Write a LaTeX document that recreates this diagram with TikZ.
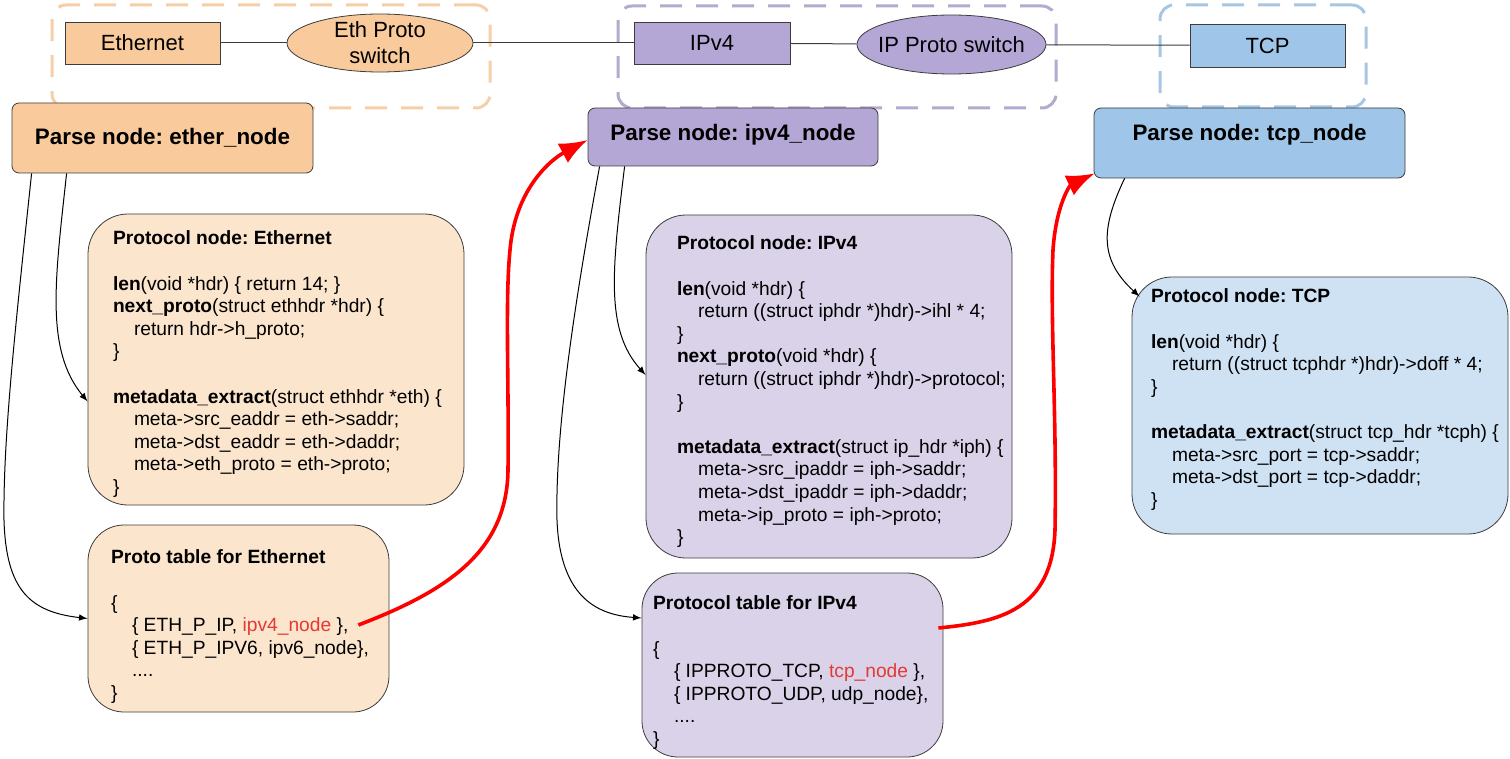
\documentclass[tikz,border=0pt]{standalone}
\usepackage{fontspec}
\setmainfont{Liberation Sans}
\usetikzlibrary{positioning,calc,shapes.geometric,arrows.meta}
\frenchspacing

\definecolor{ethfill}{HTML}{F9CB9C}
\definecolor{ethlight}{HTML}{FCE5CD}
\definecolor{ethdash}{HTML}{F5CFA8}
\definecolor{ipfill}{HTML}{B4A7D6}
\definecolor{iplight}{HTML}{D9D2E9}
\definecolor{ipdash}{HTML}{B2ABD0}
\definecolor{tcpfill}{HTML}{9FC5E8}
\definecolor{tcplight}{HTML}{CFE2F3}
\definecolor{tcpdash}{HTML}{A6C6E4}
\definecolor{boxline}{HTML}{3C3C3C}
\definecolor{hlred}{HTML}{E53935}

\newcommand{\fname}[1]{\textbf{#1}}
\newcommand{\codeind}{\hspace*{10.5pt}}
\newcommand{\nodename}[1]{\textcolor{hlred}{#1}}

\tikzset{
  grpbox/.style={draw=#1, dash pattern=on 11pt off 7pt, line width=1.5pt, rounded corners=7pt},
  hdr/.style={draw=boxline, fill=#1, minimum height=21pt, font=\fontsize{11}{13}\selectfont},
  switch/.style={ellipse, draw=boxline, fill=#1, inner xsep=-12pt, inner ysep=-6pt, align=center,
    font=\fontsize{11}{13}\selectfont},
  parse/.style={draw=boxline, fill=#1, rounded corners=3.5pt, inner sep=0pt,
    font=\bfseries\fontsize{11.2}{13}\selectfont},
  protobox/.style={draw=boxline, fill=#1, rounded corners=20pt},
  codetext/.style={anchor=north west, inner sep=0pt, align=left, font=\fontsize{9.6}{11.3}\selectfont},
  wire/.style={draw=boxline, line width=0.5pt},
  link/.style={->, draw=black, line width=0.5pt},
  hop/.style={-{Latex[length=14pt,width=11pt]}, draw=red, line width=1.8pt},
}

\begin{document}
\begin{tikzpicture}[>=latex, x=0.5pt, y=-0.5pt]
  \useasboundingbox (0,0) rectangle (1510,759);

  % header chain
  \node[grpbox=ethdash, minimum width=219pt, minimum height=51.5pt] (ethgrp) at (271,56.5) {};
  \node[grpbox=ipdash, minimum width=219pt, minimum height=51pt] (ipgrp) at (837,57) {};
  \node[grpbox=tcpdash, minimum width=103pt, minimum height=51pt] (tcpgrp) at (1263,56) {};

  \node[hdr=ethfill, minimum width=77.5pt] (ether) at (142.5,43) {Ethernet};
  \node[switch=ethfill, minimum width=93pt, minimum height=29pt] (ethsw) at (380,43) {Eth Proto\\switch};
  \node[hdr=ipfill, minimum width=78pt] (ipv4) at (712,43) {IPv4};
  \node[switch=ipfill, minimum width=94.5pt, minimum height=29.5pt] (ipsw) at (951.5,44.5) {IP Proto switch};
  \node[hdr=tcpfill, minimum width=77.5pt, minimum height=21.5pt] (tcp) at (1267.5,45.5) {TCP};

  \draw[wire] (ether) -- (ethsw);
  \draw[wire] (ethsw) -- (ipv4);
  \draw[wire] (ipv4) -- (ipsw);
  \draw[wire] (ipsw) -- (tcp);

  % parse nodes
  \node[parse=ethfill, minimum width=150.5pt, text height=21pt, text depth=14pt] (etherparse) at (162.5,138) {Parse node: ether\_node};
  \node[parse=ipfill, minimum width=145pt, text height=16.5pt, text depth=12.5pt] (ipv4parse) at (733,137) {Parse node: ipv4\_node};
  \node[parse=tcpfill, minimum width=155.5pt, text height=16.5pt, text depth=18.5pt] (tcpparse) at (1249.5,143) {Parse node: tcp\_node};

  % ethernet
  \node[protobox=ethlight, minimum width=188pt, minimum height=145.5pt] (ethproto) at (276,359.5) {};
  \node[codetext] (ethprotocode) at ([shift={(25,17)}]ethproto.north west) {%
    \fname{Protocol node: Ethernet}\\
    \mbox{}\\
    \fname{len}(void *hdr) \{ return 14; \}\\
    \fname{next\_proto}(struct ethhdr *hdr) \{\\
    \codeind return hdr->h\_proto;\\
    \}\\
    \mbox{}\\
    \fname{metadata\_extract}(struct ethhdr *eth) \{\\
    \codeind meta->src\_eaddr = eth->saddr;\\
    \codeind meta->dst\_eaddr = eth->daddr;\\
    \codeind meta->eth\_proto = eth->proto;\\
    \}};

  \node[protobox=ethlight, rounded corners=18pt, minimum width=150.5pt, minimum height=93.5pt] (ethtable) at (238.5,618.5) {};
  \node[codetext] (ethtablecode) at ([shift={(23,25)}]ethtable.north west) {%
    \fname{Proto table for Ethernet}\\
    \mbox{}\\
    \{\\
    \codeind\{ ETH\_P\_IP, \nodename{ipv4\_node} \},\\
    \codeind\{ ETH\_P\_IPV6, ipv6\_node\},\\
    \codeind....\\
    \}};

  % ipv4
  \node[protobox=iplight, minimum width=183pt, minimum height=171.5pt] (ipproto) at (829,386.5) {};
  \node[codetext] (ipprotocode) at ([shift={(31,21)}]ipproto.north west) {%
    \fname{Protocol node: IPv4}\\
    \mbox{}\\
    \fname{len}(void *hdr) \{\\
    \codeind return ((struct iphdr *)hdr)->ihl * 4;\\
    \}\\
    \fname{next\_proto}(void *hdr) \{\\
    \codeind return ((struct iphdr *)hdr)->protocol;\\
    \}\\
    \mbox{}\\
    \fname{metadata\_extract}(struct ip\_hdr *iph) \{\\
    \codeind meta->src\_ipaddr = iph->saddr;\\
    \codeind meta->dst\_ipaddr = iph->daddr;\\
    \codeind meta->ip\_proto = iph->proto;\\
    \}};

  \node[protobox=iplight, rounded corners=18pt, minimum width=150.5pt, minimum height=92pt] (iptable) at (792.5,665) {};
  \node[codetext] (iptablecode) at ([shift={(11,23)}]iptable.north west) {%
    \fname{Protocol table for IPv4}\\
    \mbox{}\\
    \{\\
    \codeind\{ IPPROTO\_TCP, \nodename{tcp\_node} \},\\
    \codeind\{ IPPROTO\_UDP, udp\_node\},\\
    \codeind....\\
    \}};

  % tcp
  \node[protobox=tcplight, minimum width=188pt, minimum height=128.5pt] (tcpproto) at (1320,405.5) {};
  \node[codetext] (tcpprotocode) at ([shift={(19,12)}]tcpproto.north west) {%
    \fname{Protocol node: TCP}\\
    \mbox{}\\
    \fname{len}(void *hdr) \{\\
    \codeind return ((struct tcphdr *)hdr)->doff * 4;\\
    \}\\
    \mbox{}\\
    \fname{metadata\_extract}(struct tcp\_hdr *tcph) \{\\
    \codeind meta->src\_port = tcp->saddr;\\
    \codeind meta->dst\_port = tcp->daddr;\\
    \}};

  % parse node -> protocol node / table
  \draw[link] ([xshift=10pt]etherparse.south west) .. controls (15,330) and (3,440) .. (4,520)
    .. controls (6,590) and (30,612) .. (ethtable.west);
  \draw[link] ([xshift=27.5pt]etherparse.south west) .. controls (55,280) and (45,350) .. ([shift={(0,42)}]ethproto.west);
  \draw[link] ([xshift=6pt]ipv4parse.south west) .. controls (575,300) and (555,430) .. (557,520)
    .. controls (560,600) and (600,615) .. ([shift={(0,-47)}]iptable.west);
  \draw[link] ([xshift=18.5pt]ipv4parse.south west) .. controls (612,270) and (605,330) .. ([shift={(0,-11.5)}]ipproto.west);
  \draw[link] ([xshift=15.5pt]tcpparse.south west) .. controls (1100,230) and (1100,260) .. ([shift={(8,20)}]tcpproto.north west);

  % next hop lookups
  \draw[hop] ([shift={(-31,6.5)}]ethtable.east) .. controls (450,590) and (507,550) .. (508,470)
    .. controls (509,380) and (505,300) .. (510,250)
    .. controls (515,190) and (550,160) .. ([shift={(0,3)}]ipv4parse.west);
  \draw[hop] ([shift={(-5,-37)}]iptable.east) .. controls (1000,622) and (1052,610) .. (1055,530)
    .. controls (1057,420) and (1050,320) .. (1053,250)
    .. controls (1056,205) and (1070,185) .. ([shift={(1,-5)}]tcpparse.south west);
\end{tikzpicture}
\end{document}
